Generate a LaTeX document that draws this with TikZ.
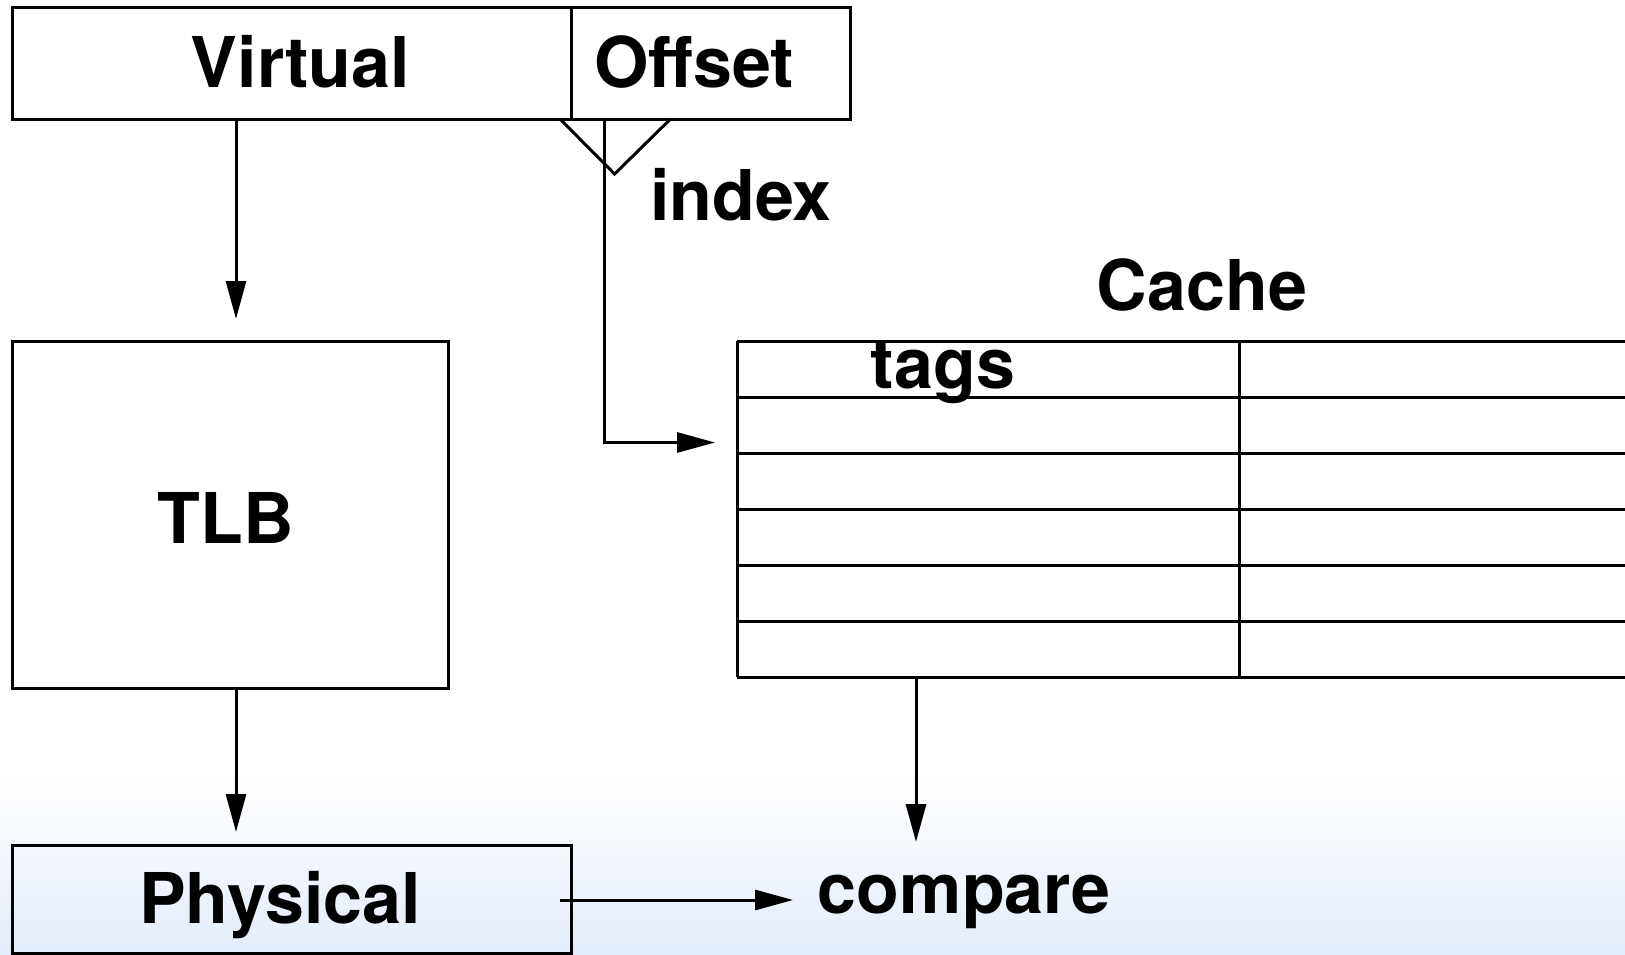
\documentclass[tikz,border=0pt]{standalone}
\usepackage{fontspec}
\setmainfont{TeX Gyre Heros}
\usetikzlibrary{arrows.meta}
\definecolor{bgblue}{RGB}{228,237,251}
\tikzset{
  lbl/.style={font=\fontsize{70}{70}\selectfont\bfseries, inner sep=0pt},
  box/.style={draw, line width=3pt, inner sep=0pt},
  ln/.style={line width=3pt},
  arr/.style={line width=3pt, -{Triangle[length=38pt,width=20pt]}}
}
\begin{document}
\begin{tikzpicture}[x=1pt,y=-1pt]
\useasboundingbox (0,0) rectangle (1625,955);
\fill[white] (0,0) rectangle (1625,955);
\shade[top color=white, bottom color=bgblue] (0,770) rectangle (1625,955);

% address fields
\node[box, minimum width=558.6pt, minimum height=111.7pt] (virt) at (291.7,63.2) {};
\node[lbl] (virtt) at (300.5,62) {Virtual};
\node[box, minimum width=279pt, minimum height=111.7pt] (off) at (710.5,63.2) {};
\node[lbl] (offt) at (694,62) {Offset};

% TLB
\node[box, minimum width=436.4pt, minimum height=347pt] (tlb) at (230.6,514.5) {};
\node[lbl] (tlbt) at (226,518) {TLB};

% Physical
\node[box, minimum width=558.6pt, minimum height=108pt] (phys) at (291.7,899) {};
\node[lbl] (physt) at (280,905.5) {Physical};

% labels
\node[lbl] (index) at (741,195) {index};
\node[lbl] (cache) at (1202,285) {Cache};
\node[lbl] (compare) at (964,901.5) {compare};

% cache table
\coordinate (tl) at (737,341);
\foreach \y in {341,397,453,509,565,621,677} {
  \draw[ln] (737,\y) -- (1625,\y);
}
\draw[ln] (737,341) -- (737,677);
\draw[ln] (1239.5,341) -- (1239.5,677);
\node[lbl] (tags) at (943,372.5) {tags};

% index triangle
\coordinate (ta) at (560,119);
\coordinate (tb) at (614.6,174);
\coordinate (tc) at (670.5,119);
\draw[ln] (ta) -- (tb) -- (tc);

% connectors
\coordinate (v1) at (236,119);
\coordinate (v2) at (236,319);
\draw[arr] (v1) -- (v2);

\coordinate (t1) at (236,688);
\coordinate (t2) at (236,832);
\draw[arr] (t1) -- (t2);

\coordinate (i1) at (604,119);
\coordinate (i2) at (604,442.5);
\coordinate (i3) at (715,442.5);
\draw[arr] (i1) -- (i2) -- (i3);

\coordinate (c1) at (916,677);
\coordinate (c2) at (916,842);
\draw[arr] (c1) -- (c2);

\coordinate (p1) at (560,900);
\coordinate (p2) at (793,900);
\draw[arr] (p1) -- (p2);
\end{tikzpicture}
\end{document}
